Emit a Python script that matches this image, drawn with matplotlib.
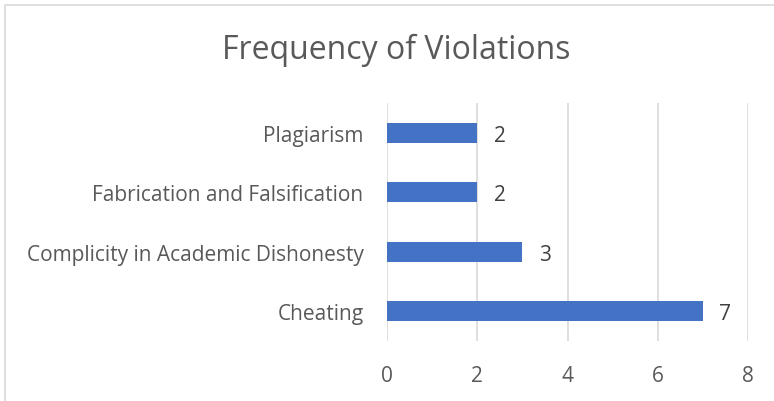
import matplotlib
matplotlib.use('Agg')
import matplotlib.pyplot as plt
from matplotlib.patches import Rectangle

categories = ['Cheating', 'Complicity in Academic Dishonesty',
              'Fabrication and Falsification', 'Plagiarism']
counts = [7, 3, 2, 2]
xticks = [0, 2, 4, 6, 8]

plt.rcParams['font.family'] = ['Open Sans', 'DejaVu Sans']
txt = '#595959'

fig = plt.figure(figsize=(7.74, 4.02), dpi=100)
fig.patches.append(Rectangle((5/774, -0.1), 1.2, 1 - 6/402 + 0.1,
                             transform=fig.transFigure, fill=False,
                             edgecolor='#d9d9d9', lw=1.2))

ax = fig.add_axes([387/774, 60/402, (748-387)/774, (342-104)/402])
y = list(range(len(categories)))
ax.barh(y, counts, height=0.34, color='#4472c4', zorder=3)
for yi, c in zip(y, counts):
    ax.text(c + 0.5, yi, str(c), va='center_baseline', ha='center',
            fontsize=15, color='#404040')

ax.set_xlim(0, 8)
ax.set_ylim(-0.5, 3.5)
ax.set_xticks(xticks)
ax.set_yticks(y)
ax.set_yticklabels(categories)
ax.tick_params(axis='x', length=0, pad=17, labelsize=15, labelcolor=txt)
ax.tick_params(axis='y', length=0, pad=17, labelsize=15, labelcolor=txt)
ax.grid(axis='x', color='#d9d9d9', lw=1.2, zorder=0)
for s in ax.spines.values():
    s.set_visible(False)

fig.text(396/774, 1 - 50/402, 'Frequency of Violations', ha='center',
         va='center', fontsize=23, color=txt)

fig.savefig('out.png', dpi=100)
